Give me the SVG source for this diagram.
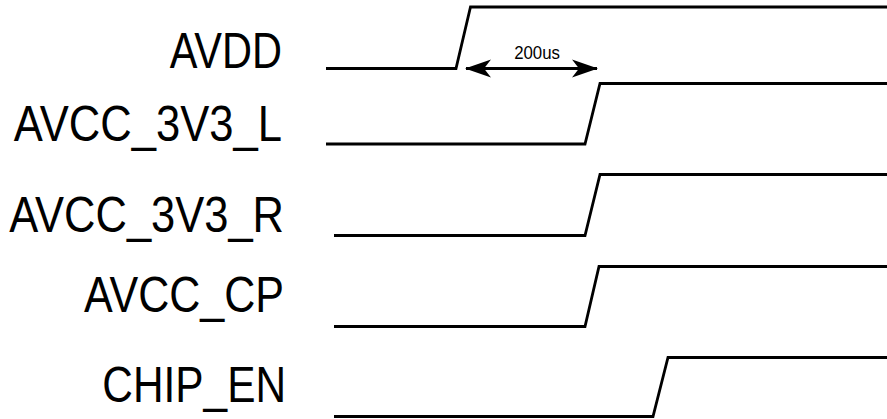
<svg xmlns="http://www.w3.org/2000/svg" width="887" height="419" viewBox="0 0 887 419">
<style>
.lbl{font-family:"Liberation Sans",Arial,sans-serif;font-size:50px;fill:#000;text-anchor:end}
.sm{font-family:"Liberation Sans",Arial,sans-serif;font-size:19px;fill:#000;text-anchor:middle}
.sig{fill:none;stroke:#000;stroke-width:2.8;stroke-linejoin:miter}
</style>
<defs>
<marker id="ah" viewBox="0 0 26 20" refX="25" refY="10" markerWidth="26" markerHeight="20" markerUnits="userSpaceOnUse" orient="auto-start-reverse">
<path d="M26,10 L0,1 L7,10 L0,19 Z" fill="#000"/>
</marker>
</defs>
<rect width="887" height="419" fill="#fff"/>
<g id="AVDD">
<text class="lbl" transform="translate(282,68) scale(0.82,1)" textLength="137" lengthAdjust="spacingAndGlyphs">AVDD</text>
</g>
<g id="AVCC_3V3_L">
<text class="lbl" transform="translate(282,141) scale(0.82,1)" textLength="327" lengthAdjust="spacingAndGlyphs">AVCC_3V3_L</text>
</g>
<g id="AVCC_3V3_R">
<text class="lbl" transform="translate(284,232) scale(0.82,1)" textLength="335" lengthAdjust="spacingAndGlyphs">AVCC_3V3_R</text>
</g>
<g id="AVCC_CP">
<text class="lbl" transform="translate(284,312) scale(0.82,1)" textLength="244" lengthAdjust="spacingAndGlyphs">AVCC_CP</text>
</g>
<g id="CHIP_EN">
<text class="lbl" transform="translate(286,402) scale(0.82,1)" textLength="224" lengthAdjust="spacingAndGlyphs">CHIP_EN</text>
</g>
<g id="connectors">
<polyline class="sig" points="326,68.5 456,68.5 470.5,7 887,7"/>
<polyline class="sig" points="326,144 585,144 600,83.5 887,83.5"/>
<polyline class="sig" points="334,235.5 585,235.5 600,174.5 887,174.5"/>
<polyline class="sig" points="334,326.5 585,326.5 599,266.5 887,266.5"/>
<polyline class="sig" points="334,416.5 653,416.5 668,357.5 887,357.5"/>
<line x1="466" y1="68.5" x2="597" y2="68.5" stroke="#000" stroke-width="2.8" marker-start="url(#ah)" marker-end="url(#ah)"/>
<text class="sm" transform="translate(537,59) scale(0.88,1)" textLength="52" lengthAdjust="spacingAndGlyphs">200us</text>
</g>
</svg>
